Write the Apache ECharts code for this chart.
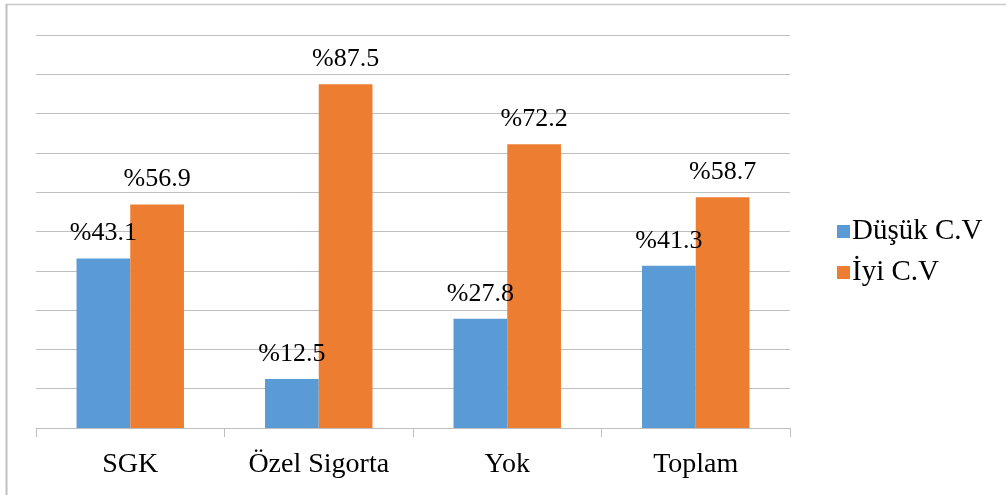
<!DOCTYPE html>
<html>
<head>
<meta charset="utf-8">
<script src="https://cdn.jsdelivr.net/npm/echarts@6/dist/echarts.min.js"></script>
<style>
  html, body { margin: 0; padding: 0; background: #fff; }
  #chart { width: 1006px; height: 495px; }
</style>
</head>
<body>
<div id="chart"></div>
<script>
// Health insurance groups and CV quality shares (%)
const categories = ['SGK', 'Özel Sigorta', 'Yok', 'Toplam'];
const seriesNames = ['Düşük C.V', 'İyi C.V'];
const dusukCV = [43.1, 12.5, 27.8, 41.3];
const iyiCV = [56.9, 87.5, 72.2, 58.7];

const serif = '"Liberation Serif", "Times New Roman", serif';
const chart = echarts.init(document.getElementById('chart'), null, { renderer: 'canvas' });

const labelStyle = {
  show: true,
  position: 'top',
  distance: 12,
  fontFamily: serif,
  fontSize: 26,
  color: '#000',
  formatter: p => '%' + p.value.toFixed(1)
};

chart.setOption({
  animation: false,
  backgroundColor: '#fff',
  textStyle: { fontFamily: serif },
  grid: { left: 36, right: 216, top: 35, bottom: 67, containLabel: false },
  legend: {
    orient: 'vertical',
    left: 832,
    top: 212,
    itemWidth: 13,
    itemHeight: 13,
    itemGap: 12,
    icon: 'rect',
    textStyle: { fontFamily: serif, fontSize: 29, color: '#000', padding: [0, 0, 0, -3] },
    data: seriesNames
  },
  xAxis: {
    type: 'category',
    data: categories,
    axisLine: { lineStyle: { color: '#bfbfbf', width: 1 } },
    axisTick: { show: true, length: 9, lineStyle: { color: '#bfbfbf' } },
    axisLabel: { fontFamily: serif, fontSize: 28, color: '#000', margin: 23 }
  },
  yAxis: {
    type: 'value',
    min: 0,
    max: 100,
    interval: 10,
    axisLine: { show: false },
    axisTick: { show: false },
    axisLabel: { show: false },
    splitLine: { lineStyle: { color: '#bfbfbf', width: 1 } }
  },
  series: [
    {
      name: seriesNames[0],
      type: 'bar',
      data: dusukCV,
      barGap: '0%',
      barCategoryGap: '43%',
      itemStyle: { color: '#5b9bd5' },
      label: labelStyle
    },
    {
      name: seriesNames[1],
      type: 'bar',
      data: iyiCV,
      itemStyle: { color: '#ed7d31' },
      label: labelStyle
    }
  ],
  graphic: [
    { type: 'line', shape: { x1: 6, y1: 4.5, x2: 1006, y2: 4.5 }, style: { stroke: '#c8c8c8', lineWidth: 1.5 } },
    { type: 'line', shape: { x1: 6.5, y1: 4, x2: 6.5, y2: 495 }, style: { stroke: '#c0c0c0', lineWidth: 2 } }
  ]
});
</script>
</body>
</html>
